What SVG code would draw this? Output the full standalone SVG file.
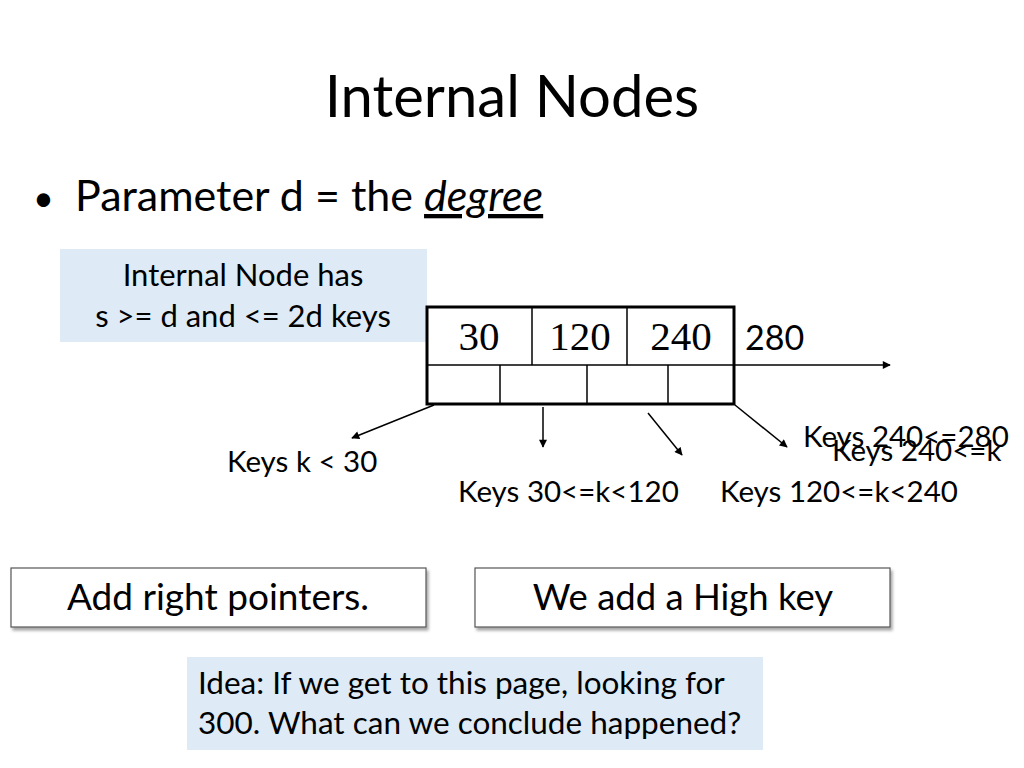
<svg xmlns="http://www.w3.org/2000/svg" width="1024" height="768" viewBox="0 0 1024 768">
<defs>
<marker id="ah" viewBox="0 0 10 10" refX="9" refY="5" markerWidth="9" markerHeight="8" markerUnits="userSpaceOnUse" orient="auto"><path d="M0,0 L10,5 L0,10 z" fill="#000"/></marker>
<filter id="sh" x="-5%" y="-20%" width="115%" height="150%"><feDropShadow dx="2" dy="3" stdDeviation="1.5" flood-color="#000" flood-opacity="0.35"/></filter>
<style>
text{font-family:Lato,"Liberation Sans",sans-serif;fill:#000}
.t{font-size:29.5px}
.k{font-family:"Liberation Serif",serif;font-size:41px}
.blue{fill:#deebf6}
.box{fill:#fff;stroke:#555;stroke-width:1.2}
.ln{stroke:#000;stroke-width:1.5;fill:none}
.cell{stroke:#000;stroke-width:1.5;fill:none}
</style>
</defs>
<rect width="1024" height="768" fill="#fff"/>
<g id="title"><text x="512" y="117" text-anchor="middle" font-size="58">Internal Nodes</text></g>
<g id="bullet">
<text x="33" y="211" font-size="36">•</text>
<text x="75" y="211" font-size="43">Parameter d = the <tspan font-style="italic" text-decoration="underline">degree</tspan></text>
</g>
<g id="info">
<rect class="blue" x="60" y="249" width="367" height="93"/>
<text x="243" y="286" text-anchor="middle" font-size="31">Internal Node has</text>
<text x="243" y="327" text-anchor="middle" font-size="31">s &gt;= d and &lt;= 2d keys</text>
</g>
<g id="node">
<rect x="427" y="307" width="307" height="97" fill="#fff" stroke="#000" stroke-width="3"/>
<line class="cell" x1="427" y1="365" x2="734" y2="365"/>
<line class="cell" x1="532" y1="307" x2="532" y2="365"/>
<line class="cell" x1="627" y1="307" x2="627" y2="365"/>
<line class="cell" x1="500" y1="365" x2="500" y2="404"/>
<line class="cell" x1="587" y1="365" x2="587" y2="404"/>
<line class="cell" x1="668" y1="365" x2="668" y2="404"/>
<text class="k" x="479" y="350" text-anchor="middle">30</text>
<text class="k" x="580" y="350" text-anchor="middle">120</text>
<text class="k" x="681" y="350" text-anchor="middle">240</text>
</g>
<g id="highkey"><text x="745" y="350" font-size="34">280</text></g>
<g id="connectors">
<line class="ln" x1="734" y1="365" x2="890" y2="365" marker-end="url(#ah)"/>
<line class="ln" x1="434" y1="405" x2="352" y2="438" marker-end="url(#ah)"/>
<line class="ln" x1="543" y1="407" x2="543" y2="447" marker-end="url(#ah)"/>
<line class="ln" x1="648" y1="413" x2="682" y2="455" marker-end="url(#ah)"/>
<line class="ln" x1="735" y1="405" x2="787" y2="447" marker-end="url(#ah)"/>
</g>
<g id="labels">
<text class="t" x="227" y="472">Keys k &lt; 30</text>
<text class="t" x="458" y="502">Keys 30&lt;=k&lt;120</text>
<text class="t" x="720" y="502">Keys 120&lt;=k&lt;240</text>
<text class="t" x="803" y="447">Keys 240&lt;=280</text>
<text class="t" x="832" y="461">Keys 240&lt;=k</text>
</g>
<g id="pointers">
<rect class="box" x="11" y="568" width="415" height="59" filter="url(#sh)"/>
<text x="218" y="610" text-anchor="middle" font-size="37">Add right pointers.</text>
</g>
<g id="highkeybox">
<rect class="box" x="475" y="568" width="415" height="59" filter="url(#sh)"/>
<text x="683" y="610" text-anchor="middle" font-size="36.5">We add a High key</text>
</g>
<g id="idea">
<rect class="blue" x="187" y="657" width="576" height="93"/>
<text x="198" y="694" font-size="31.5">Idea: If we get to this page, looking for</text>
<text x="198" y="734" font-size="31.5">300. What can we conclude happened?</text>
</g>
</svg>
